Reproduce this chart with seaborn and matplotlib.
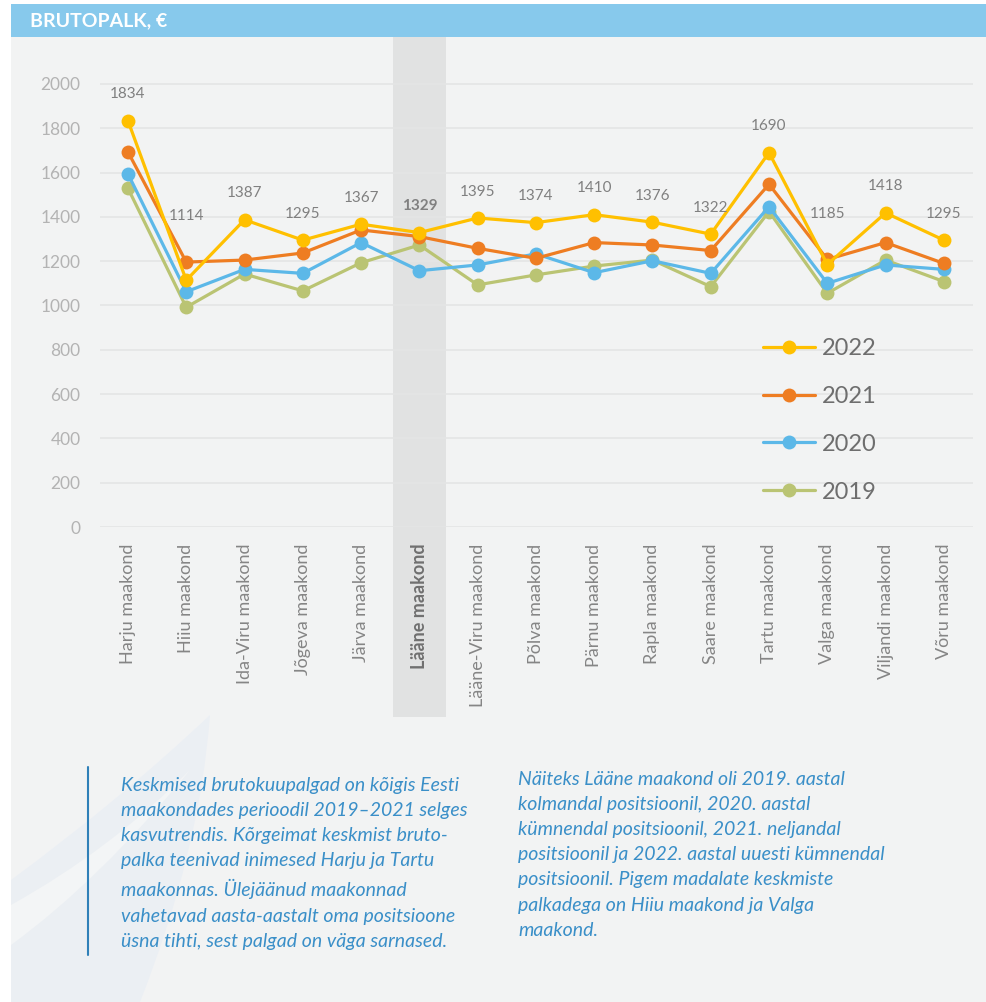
import pandas as pd
import seaborn as sns
import matplotlib.pyplot as plt
from matplotlib.patches import Rectangle, PathPatch
from matplotlib.path import Path
from matplotlib.lines import Line2D

# maakonnad (x-axis)
maakonnad = ['Harju maakond', 'Hiiu maakond', 'Ida-Viru maakond', 'Jõgeva maakond',
             'Järva maakond', 'Lääne maakond', 'Lääne-Viru maakond', 'Põlva maakond',
             'Pärnu maakond', 'Rapla maakond', 'Saare maakond', 'Tartu maakond',
             'Valga maakond', 'Viljandi maakond', 'Võru maakond']

palk_2019 = [1529, 992, 1142, 1066, 1193, 1273, 1093, 1138, 1178, 1205, 1085, 1424, 1055, 1205, 1108]
palk_2020 = [1594, 1062, 1163, 1145, 1284, 1157, 1183, 1233, 1148, 1202, 1145, 1446, 1100, 1183, 1163]
palk_2021 = [1693, 1196, 1205, 1237, 1341, 1311, 1258, 1213, 1284, 1273, 1248, 1547, 1208, 1284, 1190]
palk_2022 = [1834, 1114, 1387, 1295, 1367, 1329, 1395, 1374, 1410, 1376, 1322, 1690, 1185, 1418, 1295]

aastad = ['2019', '2020', '2021', '2022']
varvid = {'2019': '#bac473', '2020': '#5cb8e8', '2021': '#ee7d22', '2022': '#ffc000'}
esile = 'Lääne maakond'

vasak_tekst = ("Keskmised brutokuupalgad on kõigis Eesti\n"
               "maakondades perioodil 2019–2021 selges\n"
               "kasvutrendis. Kõrgeimat keskmist bruto-\n"
               "palka teenivad inimesed Harju ja Tartu\n"
               "maakonnas. Ülejäänud maakonnad\n"
               "vahetavad aasta-aastalt oma positsioone\n"
               "üsna tihti, sest palgad on väga sarnased.")
parem_tekst = ("Näiteks Lääne maakond oli 2019. aastal\n"
               "kolmandal positsioonil, 2020. aastal\n"
               "kümnendal positsioonil, 2021. neljandal\n"
               "positsioonil ja 2022. aastal uuesti kümnendal\n"
               "positsioonil. Pigem madalate keskmiste\n"
               "palkadega on Hiiu maakond ja Valga\n"
               "maakond.")

rows = []
for aasta, vals in zip(aastad, [palk_2019, palk_2020, palk_2021, palk_2022]):
    for m, v in zip(maakonnad, vals):
        rows.append({'maakond': m, 'palk': v, 'aasta': aasta})
df = pd.DataFrame(rows)

sns.set_style('white')
plt.rcParams['font.family'] = ['Lato', 'DejaVu Sans']

W, H = 986, 1002
fig = plt.figure(figsize=(9.86, 10.02), dpi=100)
fig.patch.set_facecolor('white')


def fx(px):
    return px / W


def fy(py):
    return 1 - py / H


# panel background and header band
fig.patches.append(Rectangle((fx(11), 0), 1, fy(4), transform=fig.transFigure,
                             facecolor='#f2f3f3', edgecolor='none', zorder=-10))
fig.patches.append(Rectangle((fx(11), fy(37)), 1, 33 / H, transform=fig.transFigure,
                             facecolor='#87c9ec', edgecolor='none', zorder=-9))
# faint swoosh in the bottom-left corner
swoosh = Path([(fx(11), fy(880)), (fx(120), fy(800)), (fx(210), fy(715)),
               (fx(200), fy(850)), (fx(140), fy(1002)), (fx(11), fy(1002)),
               (fx(11), fy(880))],
              [Path.MOVETO, Path.CURVE3, Path.CURVE3, Path.CURVE3, Path.CURVE3,
               Path.LINETO, Path.CLOSEPOLY])
fig.patches.append(PathPatch(swoosh, transform=fig.transFigure, facecolor='#ebeff3',
                             edgecolor='none', zorder=-8))
stripe = Path([(fx(11), fy(905)), (fx(110), fy(850)), (fx(190), fy(770)),
               (fx(100), fy(880)), (fx(11), fy(945)), (fx(11), fy(905))],
              [Path.MOVETO, Path.CURVE3, Path.CURVE3, Path.CURVE3, Path.CURVE3,
               Path.CLOSEPOLY])
fig.patches.append(PathPatch(stripe, transform=fig.transFigure, facecolor='#f3f5f6',
                             edgecolor='none', zorder=-7))

fig.text(fx(30), fy(21), 'BRUTOPALK, €', color='white', fontsize=14,
         fontweight='bold', va='center', ha='left')

ax = fig.add_axes([fx(100), fy(527), 873 / W, 490 / H])
ax.set_facecolor('none')

sns.lineplot(data=df, x='maakond', y='palk', hue='aasta', hue_order=aastad,
             palette=varvid, marker='o', markersize=10, markeredgewidth=0,
             linewidth=2.3, sort=False, ax=ax, legend=False)

ax.set_xlim(-0.48, 14.5)
ax.set_ylim(0, 2212)
ax.set_yticks(range(0, 2001, 200))
ax.grid(axis='y', color='#e4e5e5', linewidth=1.2)
ax.set_axisbelow(True)
for s in ax.spines.values():
    s.set_visible(False)
ax.set_xlabel('')
ax.set_ylabel('')
ax.tick_params(axis='y', length=0, pad=14, labelsize=12.5, labelcolor='#b3b3b3')
ax.tick_params(axis='x', length=0, pad=12, labelsize=13, labelcolor='#858585')
ax.set_xticks(range(len(maakonnad)))
ax.set_xticklabels(maakonnad, rotation=90, va='top')

# highlight column
i = maakonnad.index(esile)
ax.add_patch(Rectangle((i - 0.455, -0.388), 0.91, 1.388, transform=ax.get_xaxis_transform(),
                       facecolor='#e1e2e2', edgecolor='none', clip_on=False, zorder=-5))
for lbl in ax.get_xticklabels():
    if lbl.get_text() == esile:
        lbl.set_fontweight('bold')
        lbl.set_color('#707070')

# value labels for 2022
for k, m in enumerate(maakonnad):
    top = max(palk_2019[k], palk_2020[k], palk_2021[k], palk_2022[k])
    extra = 0 if top == palk_2022[k] else 14
    ax.annotate(str(palk_2022[k]), (k, top), xytext=(0, 14 + extra), textcoords='offset points',
                ha='center', va='bottom', fontsize=11, color='#808080',
                fontweight='bold' if m == esile else 'normal')

handles = [Line2D([], [], color=varvid[a], marker='o', markersize=10, markeredgewidth=0,
                  linewidth=2.3) for a in aastad[::-1]]
ax.legend(handles, aastad[::-1], loc='upper left', bbox_to_anchor=(0.759, 0.386),
          frameon=False, fontsize=17, labelcolor='#6e6e6e', handlelength=2.2,
          handletextpad=0.3, labelspacing=1.14, borderpad=0, borderaxespad=0)

# comment text
fig.add_artist(Line2D([fx(88), fx(88)], [fy(767), fy(955)], color='#2f80b8', linewidth=1.5))
fig.text(fx(121), fy(777), vasak_tekst, color='#3a8fc8', fontsize=14,
         style='italic', va='top', ha='left', linespacing=1.58)
fig.text(fx(518), fy(771), parem_tekst, color='#3a8fc8', fontsize=14,
         style='italic', va='top', ha='left', linespacing=1.58)

fig.savefig('out.png', dpi=100, facecolor=fig.get_facecolor())
